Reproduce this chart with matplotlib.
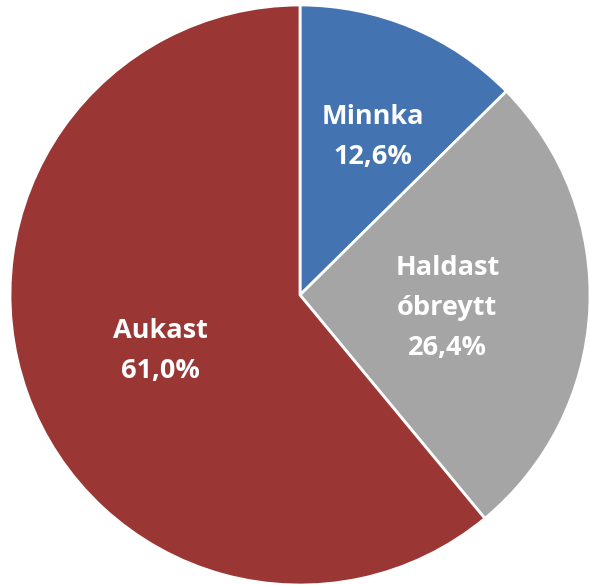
import numpy as np
import matplotlib.pyplot as plt

labels = ['Minnka', 'Haldast\nóbreytt', 'Aukast']
values = [12.6, 26.4, 61.0]
colors = ['#4473B1', '#A5A5A5', '#9A3634']
label_r = [0.60, 0.51, 0.52]
label_shift = [-2, -2, 2]  # degrees

fig = plt.figure(figsize=(5.89, 5.85), dpi=100)
ax = fig.add_axes([10 / 589, 0 / 585, 580 / 589, 580 / 585])

wedges, _ = ax.pie(values, colors=colors, startangle=90, counterclock=False,
                   radius=1, wedgeprops=dict(edgecolor='white', linewidth=2))

for w, lab, v, r, s in zip(wedges, labels, values, label_r, label_shift):
    ang = np.deg2rad((w.theta1 + w.theta2) / 2 + s)
    txt = lab + '\n' + f'{v:.1f}%'.replace('.', ',')
    ax.text(r * np.cos(ang), r * np.sin(ang), txt, ha='center', va='center',
            color='white', fontsize=19.5, fontweight='bold', family=['Open Sans', 'DejaVu Sans'],
            linespacing=1.7)

ax.set_xlim(-1, 1)
ax.set_ylim(-1, 1)
ax.set_aspect('equal')
ax.axis('off')

fig.savefig('out.png', dpi=100)
